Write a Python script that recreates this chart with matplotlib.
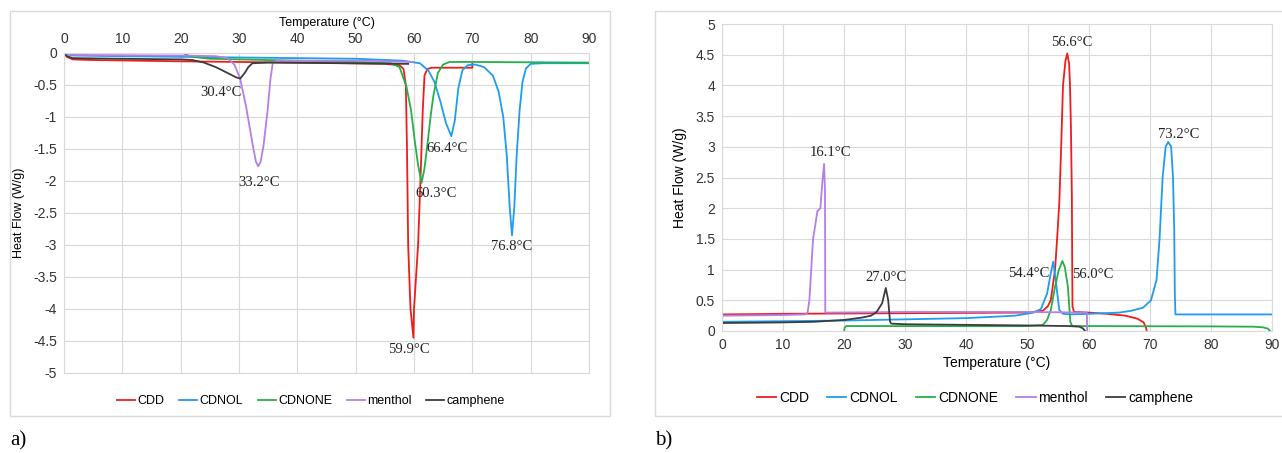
import matplotlib.pyplot as plt
from matplotlib.patches import Rectangle

W, H = 1282, 453

colors = {
    "CDD": "#f01c1c",
    "CDNOL": "#1e9cf0",
    "CDNONE": "#25b04a",
    "menthol": "#b47fe6",
    "camphene": "#3c3c3c",
}

# a) heating curves
cdd_a_t = [0, 0.5, 1.5, 5, 20, 40, 55, 57.5, 58.2, 58.6, 58.8, 59.0, 59.4, 59.9, 60.0, 60.7, 61.1, 61.5, 61.8, 62.3, 63, 70.0, 70.0]
cdd_a_q = [0, -0.06, -0.1, -0.11, -0.13, -0.15, -0.17, -0.19, -0.25, -0.5, -1.5, -3.0, -4.0, -4.45, -4.0, -3.0, -2.0, -0.9, -0.35, -0.25, -0.23, -0.23, -0.17]

cdnol_a_t = [0, 0.5, 1.5, 10, 30, 50, 58, 61, 62.5, 63.5, 64.5, 65.5, 66.4, 67.0, 67.6, 68.3, 69.2, 70.5, 72, 73.5, 74.5, 75.3, 75.9, 76.4, 76.8, 77.2, 77.6, 78.1, 78.6, 79.2, 80, 82, 90]
cdnol_a_q = [0, -0.02, -0.04, -0.05, -0.07, -0.09, -0.12, -0.16, -0.28, -0.45, -0.75, -1.1, -1.30, -1.05, -0.55, -0.27, -0.19, -0.18, -0.22, -0.35, -0.6, -1.0, -1.6, -2.4, -2.85, -2.4, -1.6, -0.9, -0.45, -0.24, -0.17, -0.16, -0.16]

cdnone_a_t = [20.5, 21, 22, 25, 30, 40, 50, 56, 57.5, 58.7, 59.5, 60.1, 60.7, 61.3, 61.8, 62.4, 62.9, 63.3, 64.1, 65.0, 66.1, 70, 90]
cdnone_a_q = [0, -0.03, -0.06, -0.09, -0.1, -0.12, -0.14, -0.16, -0.22, -0.52, -0.9, -1.35, -1.75, -2.03, -1.8, -1.35, -0.95, -0.68, -0.31, -0.18, -0.14, -0.14, -0.15]

menthol_a_t = [0, 0.5, 2, 20, 26, 28, 29.2, 30.2, 31.2, 32.3, 32.9, 33.3, 33.7, 34.2, 34.9, 35.4, 35.8, 36.5, 50, 59.8]
menthol_a_q = [0, -0.02, -0.03, -0.04, -0.05, -0.08, -0.18, -0.4, -0.83, -1.41, -1.7, -1.77, -1.7, -1.45, -0.9, -0.4, -0.15, -0.12, -0.12, -0.14]

camphene_a_t = [0, 0.5, 1.5, 10, 20, 22, 24, 26, 28, 29.5, 30.2, 31.0, 31.6, 32.3, 35, 50, 59]
camphene_a_q = [0, -0.05, -0.08, -0.09, -0.1, -0.11, -0.15, -0.22, -0.31, -0.38, -0.40, -0.31, -0.22, -0.16, -0.15, -0.16, -0.17]

# b) cooling curves
cdd_b_t = [0, 0.1, 10, 30, 50, 52.5, 53.3, 53.8, 54.5, 54.9, 55.2, 55.5, 55.8, 56.2, 56.5, 56.8, 56.95, 57.1, 57.25, 57.3, 57.35, 57.6, 60, 63, 66, 68, 69, 69.4, 69.5]
cdd_b_q = [0.22, 0.27, 0.28, 0.29, 0.30, 0.33, 0.4, 0.5, 1.0, 1.6, 2.1, 3.0, 4.0, 4.4, 4.52, 4.35, 4.0, 3.3, 2.2, 1.2, 0.4, 0.31, 0.3, 0.28, 0.25, 0.2, 0.14, 0.05, 0.0]

cdnol_b_t = [0, 0.1, 10, 20, 30, 40, 48, 51, 52.2, 53.2, 53.8, 54.2, 54.6, 55.2, 55.8, 57, 60, 65, 67, 68.9, 70.2, 71.1, 71.6, 72.1, 72.6, 73.0, 73.5, 73.8, 74.0, 74.1, 74.2, 90]
cdnol_b_q = [0.12, 0.15, 0.16, 0.17, 0.19, 0.21, 0.25, 0.3, 0.36, 0.61, 0.94, 1.13, 0.83, 0.34, 0.28, 0.27, 0.28, 0.3, 0.33, 0.38, 0.5, 0.83, 1.5, 2.5, 3.0, 3.08, 3.0, 2.5, 1.65, 0.6, 0.27, 0.27]

cdnone_b_t = [20, 20.05, 20.3, 30, 50, 52.5, 53.2, 53.8, 54.5, 55.1, 55.7, 56.1, 56.6, 57.0, 57.3, 60, 80, 87, 88.5, 89.3, 89.7]
cdnone_b_q = [0, 0.05, 0.08, 0.08, 0.08, 0.1, 0.18, 0.34, 0.72, 0.99, 1.14, 1.04, 0.72, 0.15, 0.08, 0.08, 0.075, 0.07, 0.06, 0.04, 0.0]

menthol_b_t = [0, 0.1, 10, 13.6, 14.0, 14.3, 14.9, 15.3, 15.6, 16.1, 16.4, 16.7, 16.85, 16.9, 17.2, 30, 50, 59.7, 59.75]
menthol_b_q = [0.2, 0.25, 0.26, 0.27, 0.3, 0.5, 1.5, 1.75, 1.95, 2.0, 2.4, 2.72, 2.3, 0.3, 0.3, 0.31, 0.31, 0.3, 0.0]

camphene_b_t = [0, 0.1, 10, 15, 20, 23, 24.4, 25.3, 26.2, 26.8, 27.2, 27.5, 27.7, 30, 40, 50, 57, 58.5, 59.1, 59.4]
camphene_b_q = [0.1, 0.13, 0.14, 0.15, 0.18, 0.22, 0.25, 0.31, 0.45, 0.70, 0.5, 0.15, 0.12, 0.11, 0.1, 0.09, 0.08, 0.07, 0.04, 0.0]

labels_a = ["30.4°C", "33.2°C", "66.4°C", "60.3°C", "59.9°C", "76.8°C"]
labels_a_xy = [(26.9, -0.61), (33.4, -2.03), (65.7, -1.49), (63.7, -2.2), (59.2, -4.63), (76.8, -3.03)]
labels_b = ["16.1°C", "56.6°C", "73.2°C", "54.4°C", "56.0°C", "27.0°C"]
labels_b_xy = [(17.8, 2.90), (57.2, 4.70), (74.8, 3.2), (50.2, 0.935), (60.6, 0.92), (26.9, 0.87)]

series_a = {
    "CDD": (cdd_a_t, cdd_a_q),
    "CDNOL": (cdnol_a_t, cdnol_a_q),
    "CDNONE": (cdnone_a_t, cdnone_a_q),
    "menthol": (menthol_a_t, menthol_a_q),
    "camphene": (camphene_a_t, camphene_a_q),
}
series_b = {
    "CDD": (cdd_b_t, cdd_b_q),
    "CDNOL": (cdnol_b_t, cdnol_b_q),
    "CDNONE": (cdnone_b_t, cdnone_b_q),
    "menthol": (menthol_b_t, menthol_b_q),
    "camphene": (camphene_b_t, camphene_b_q),
}

plt.rcParams['font.family'] = ['Liberation Sans', 'DejaVu Sans']
fig = plt.figure(figsize=(W / 100, H / 100), dpi=100)


def px_axes(left, top, right, bottom):
    return fig.add_axes([left / W, 1 - bottom / H, (right - left) / W, (bottom - top) / H])


def frame(left, top, right, bottom):
    fig.patches.append(Rectangle((left / W, 1 - bottom / H), (right - left) / W, (bottom - top) / H,
                                 transform=fig.transFigure, fill=False, edgecolor="#d9d9d9", lw=1.0))


def style(ax, size):
    ax.grid(True, color="#d9d9d9", lw=0.8)
    ax.set_axisbelow(True)
    for s in ax.spines.values():
        s.set_color("#d9d9d9")
        s.set_linewidth(0.8)
    ax.tick_params(length=0, labelsize=size, colors="#333333", pad=5)
    ax.set_xlim(0, 90)
    ax.set_xticks(range(0, 91, 10))


frame(10, 11, 610, 416)
frame(655, 11, 1290, 416)

# panel a
ax1 = px_axes(64, 53, 589, 373)
style(ax1, 10)
for name, (t, q) in series_a.items():
    ax1.plot(t, q, color=colors[name], lw=1.3, label=name)
ax1.set_ylim(-5, 0)
ax1.set_yticks([0, -0.5, -1, -1.5, -2, -2.5, -3, -3.5, -4, -4.5, -5])
ax1.set_yticklabels(["0", "-0.5", "-1", "-1.5", "-2", "-2.5", "-3", "-3.5", "-4", "-4.5", "-5"])
ax1.xaxis.tick_top()
ax1.xaxis.set_label_position("top")
ax1.set_xlabel("Temperature (°C)", fontsize=9, labelpad=4)
ax1.set_ylabel("Heat Flow (W/g)", fontsize=9, labelpad=6)
for txt, (x, y) in zip(labels_a, labels_a_xy):
    ax1.text(x, y, txt, ha="center", va="center", fontsize=10.5, family="Liberation Serif", color="#222222")
ax1.legend(loc="center", bbox_to_anchor=(311 / W, 1 - 401 / H), bbox_transform=fig.transFigure,
           ncol=5, frameon=False, fontsize=9, handlelength=1.45, handletextpad=0.2, columnspacing=1.15)

# panel b
ax2 = px_axes(722, 24, 1272, 331)
style(ax2, 10)
for name, (t, q) in series_b.items():
    ax2.plot(t, q, color=colors[name], lw=1.3, label=name)
ax2.set_ylim(0, 5)
ax2.set_yticks([0, 0.5, 1, 1.5, 2, 2.5, 3, 3.5, 4, 4.5, 5])
ax2.set_yticklabels(["0", "0.5", "1", "1.5", "2", "2.5", "3", "3.5", "4", "4.5", "5"])
ax2.set_xlabel("Temperature (°C)", fontsize=10, labelpad=3)
ax2.set_ylabel("Heat Flow (W/g)", fontsize=10, labelpad=6)
for txt, (x, y) in zip(labels_b, labels_b_xy):
    ax2.text(x, y, txt, ha="center", va="center", fontsize=10.5, family="Liberation Serif", color="#222222")
ax2.legend(loc="center", bbox_to_anchor=(975 / W, 1 - 398 / H), bbox_transform=fig.transFigure,
           ncol=5, frameon=False, fontsize=10, handlelength=1.4, handletextpad=0.2, columnspacing=1.3)

fig.text(10 / W, 1 - 441 / H, "a)", fontsize=15, family="Liberation Serif", va="center", ha="left")
fig.text(655 / W, 1 - 441 / H, "b)", fontsize=15, family="Liberation Serif", va="center", ha="left")

fig.savefig("out.png", dpi=100)
